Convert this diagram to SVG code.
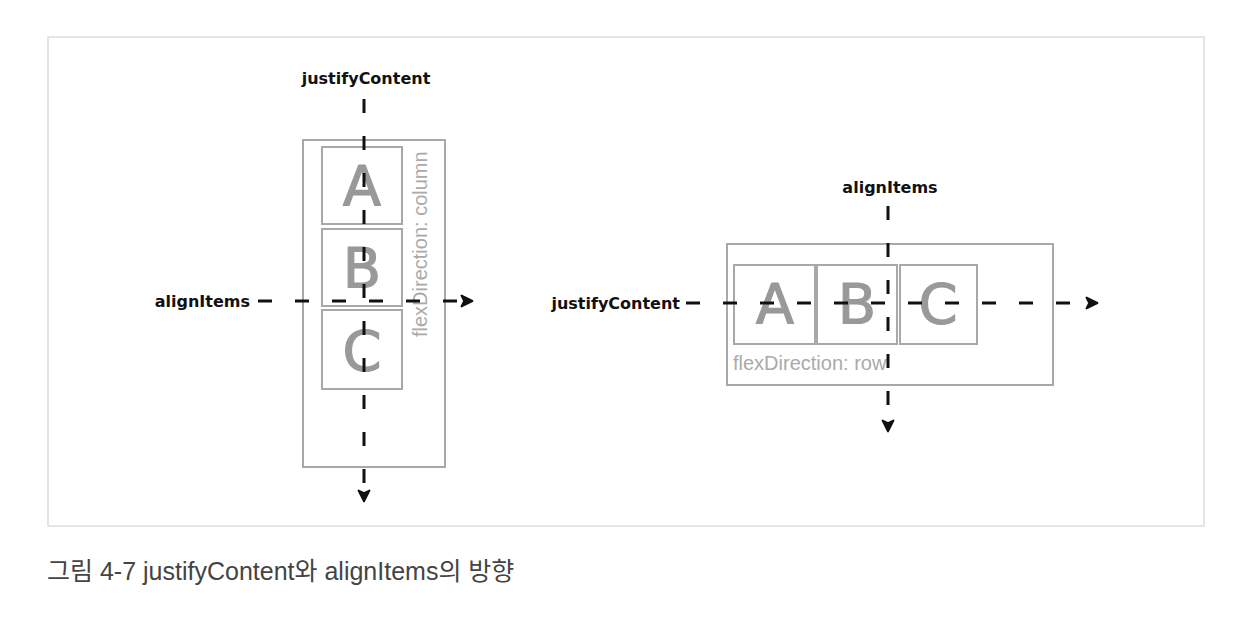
<svg xmlns="http://www.w3.org/2000/svg" width="1234" height="618" viewBox="0 0 1234 618">
<style>
.frame{fill:#fff;stroke:#ddd;stroke-width:1.5}
.cont{fill:none;stroke:#a8a8a8;stroke-width:2}
.item{fill:#fff;stroke:#a8a8a8;stroke-width:2}
.letter{font-family:"DejaVu Sans","Liberation Sans",sans-serif;font-size:56px;fill:#999;stroke:#999;stroke-width:1.2;stroke-linejoin:round;text-anchor:middle}
.lbl{font-family:"DejaVu Sans","Liberation Sans",sans-serif;font-size:16px;font-weight:bold;fill:#111}
.dir{font-family:"Liberation Sans","DejaVu Sans",sans-serif;font-size:20px;fill:#aaa}
.dash{fill:none;stroke:#111;stroke-width:3;stroke-dasharray:14 23}
.cap{font-family:"Liberation Sans","Noto Sans CJK KR",sans-serif;font-size:25px;fill:#444}
</style>
<defs>
<marker id="arr" viewBox="0 0 10 10" refX="8" refY="5" markerWidth="4.5" markerHeight="4.5" orient="auto" markerUnits="strokeWidth">
<path d="M1,1 L9,5 L1,9 L3,5 Z" fill="#111" stroke="#111" stroke-width="1.5" stroke-linejoin="round"/>
</marker>
</defs>
<rect width="1234" height="618" fill="#fff"/>
<rect class="frame" x="48" y="37" width="1156" height="489"/>

<g id="left-container">
<rect class="cont" x="303" y="140" width="142" height="327"/>
<text class="dir" transform="translate(427,337) rotate(-90)">flexDirection: column</text>
</g>
<g id="left-A"><rect class="item" x="322" y="147" width="80" height="77"/><text class="letter" x="362" y="205">A</text></g>
<g id="left-B"><rect class="item" x="322" y="229" width="80" height="77"/><text class="letter" x="362" y="287">B</text></g>
<g id="left-C"><rect class="item" x="322" y="310" width="80" height="79"/><text class="letter" x="362" y="370">C</text></g>
<g id="left-labels">
<text class="lbl" x="366" y="84" text-anchor="middle">justifyContent</text>
<text class="lbl" x="250" y="307" text-anchor="end">alignItems</text>
</g>

<g id="right-container">
<rect class="cont" x="727" y="244" width="326" height="141"/>
<text class="dir" x="733" y="370">flexDirection: row</text>
</g>
<g id="right-A"><rect class="item" x="734" y="265" width="81" height="79"/><text class="letter" x="775" y="323">A</text></g>
<g id="right-B"><rect class="item" x="817" y="265" width="80" height="79"/><text class="letter" x="857" y="323">B</text></g>
<g id="right-C"><rect class="item" x="900" y="265" width="77" height="79"/><text class="letter" x="938" y="323">C</text></g>
<g id="right-labels">
<text class="lbl" x="890" y="193" text-anchor="middle">alignItems</text>
<text class="lbl" x="680" y="309" text-anchor="end">justifyContent</text>
</g>

<g id="connectors">
<path class="dash" d="M364,99 V500" marker-end="url(#arr)"/>
<path class="dash" d="M258,301 H471" marker-end="url(#arr)"/>
<path class="dash" d="M888,206 V430" marker-end="url(#arr)"/>
<path class="dash" d="M686,303 H1096" marker-end="url(#arr)"/>
</g>

<text class="cap" x="47" y="580">그림 4-7 justifyContent와 alignItems의 방향</text>
</svg>
